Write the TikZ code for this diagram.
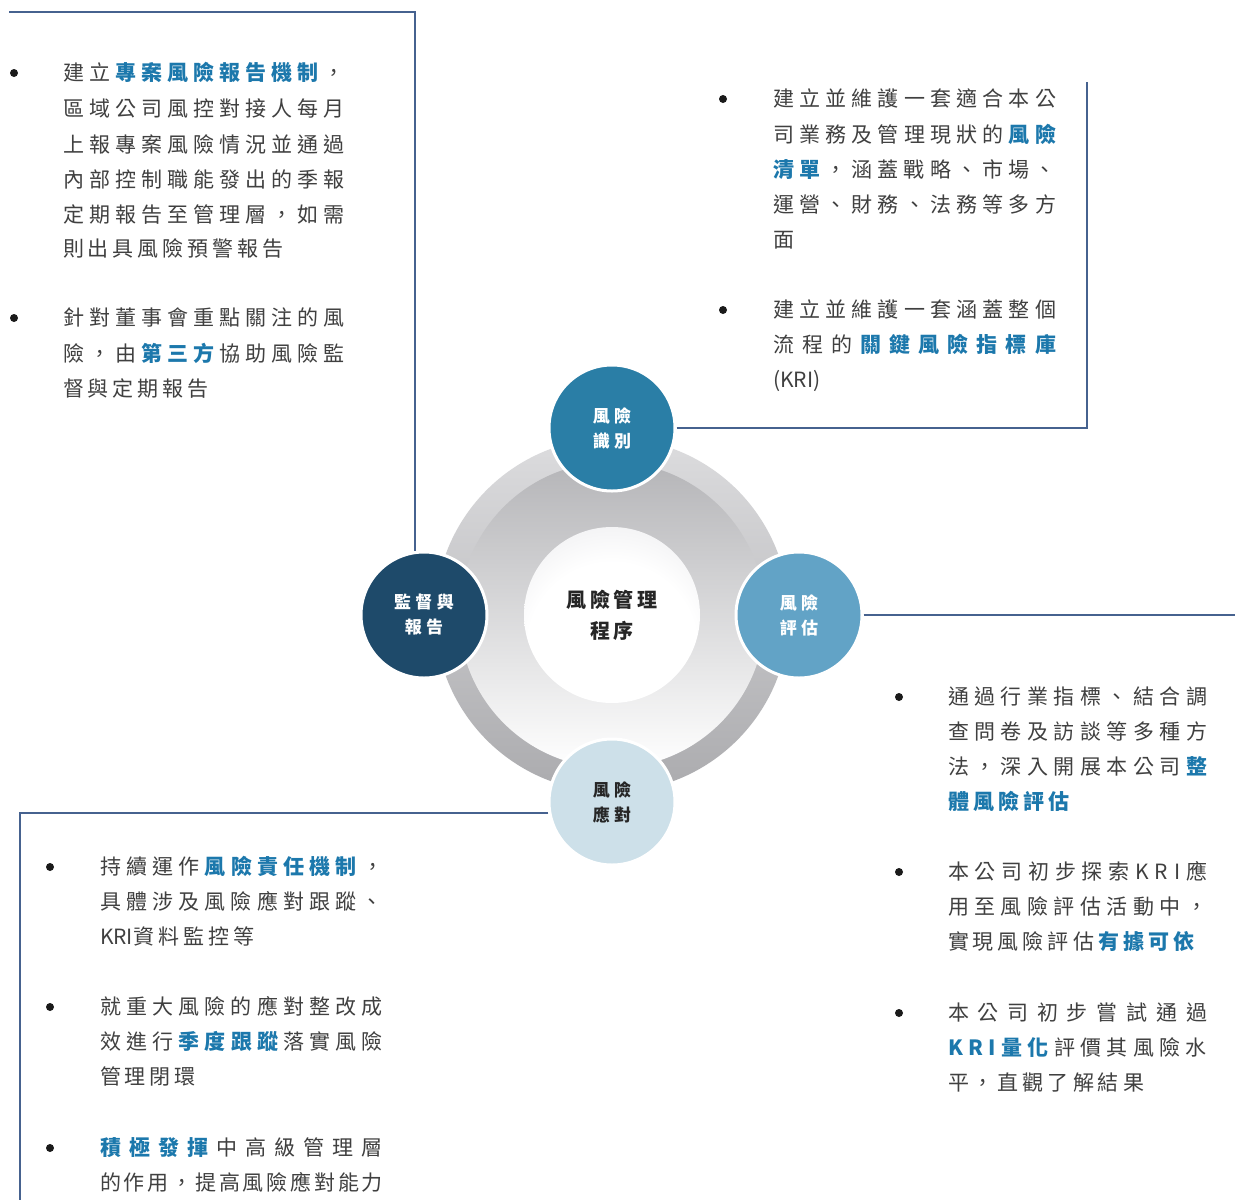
\documentclass[tikz,border=0pt]{standalone}
\usepackage{fontspec}
\setmainfont{Noto Sans CJK TC}
\definecolor{linec}{HTML}{46628F}
\definecolor{textc}{HTML}{404040}
\definecolor{hl}{HTML}{1C78AC}
\definecolor{dotc}{HTML}{1A1A1A}
\definecolor{cIdent}{HTML}{2A7EA6}
\definecolor{cSup}{HTML}{1E4A6A}
\definecolor{cAssess}{HTML}{62A3C6}
\definecolor{cResp}{HTML}{CDE0E9}
\definecolor{corec}{HTML}{262626}
\definecolor{ringT}{HTML}{DCDCDE}
\definecolor{ringM}{HTML}{ECECEE}
\definecolor{ringB}{HTML}{ABABAE}
\definecolor{innT}{HTML}{B5B5B8}
\definecolor{coreA}{HTML}{EEEEF0}
\definecolor{coreB}{HTML}{CACACD}
\definecolor{coreC}{HTML}{A4A4A8}
\pgfdeclareradialshading{coreshade}{\pgfpoint{0bp}{-12bp}}{color(0bp)=(white); color(24bp)=(white); color(38bp)=(coreA); color(50bp)=(coreB); color(64bp)=(coreC); color(100bp)=(coreC)}
\newcommand\chgap{4pt}
\newcommand\cg{\hskip\chgap plus 1fil minus 2pt\relax}
\ExplSyntaxOn
\NewDocumentCommand\jn{m}{\tl_map_inline:nn{#1}{##1\cg}}
\NewDocumentCommand\jh{m}{\tl_map_inline:nn{#1}{{\color{hl}\bfseries ##1}\cg}}
\ExplSyntaxOff
\newcommand\JL[2]{\makebox[#1][s]{#2\unskip}}
\newcommand\NL[1]{#1\unskip}
\newcommand\HB[1]{\hbox{#1\unskip}}
\begin{document}
\begin{tikzpicture}[x=1pt,y=-1pt,
  conn/.style={draw=linec, line width=2pt},
  txt/.style={anchor=west, inner sep=0pt, outer sep=0pt, text=textc, font=\fontsize{21}{25}\selectfont, text height=18pt, text depth=3.5pt},
  dot/.style={circle, fill=dotc, inner sep=0pt, minimum size=8pt},
  phase/.style={circle, draw=white, line width=3pt, minimum size=126pt, inner sep=0pt, align=center, font=\fontsize{17}{25}\selectfont\bfseries\def\chgap{4.5pt}}]
\useasboundingbox (0,0) rectangle (1235,1200);
\fill[white] (0,0) rectangle (1235,1200);
% ring
\shade[top color=ringT, middle color=ringM, bottom color=ringB] (612,615) circle[radius=177pt];
\shade[top color=innT, middle color=white, bottom color=white] (612,615) circle[radius=153pt];
\node[circle, minimum size=176pt, inner sep=0pt, shade, shading=coreshade, align=center, text=corec, font=\fontsize{20}{31}\selectfont\bfseries\def\chgap{3.5pt}] (core) at (612,615) {\HB{\jn{風險管理}}\\\HB{\jn{程序}}};
% phases
\node[phase, fill=cIdent, text=white] (ident) at (612,428) {\HB{\jn{風險}}\\\HB{\jn{識別}}};
\node[phase, fill=cSup, text=white] (sup) at (424,615) {\HB{\jn{監督與}}\\\HB{\jn{報告}}};
\node[phase, fill=cAssess, text=white] (assess) at (799,615) {\HB{\jn{風險}}\\\HB{\jn{評估}}};
\node[phase, fill=cResp, text=corec] (resp) at (612,802) {\HB{\jn{風險}}\\\HB{\jn{應對}}};
% connectors
\coordinate (tlstart) at (9,12);
\coordinate (trend) at (1087,82);
\coordinate (rend) at (1235,615);
\coordinate (bend) at (20,1200);
\draw[conn] (tlstart) -| (sup.98);
\draw[conn] (ident.east) -| (trend);
\draw[conn] (assess.east) -- (rend);
\draw[conn] (resp.190) -| (bend);
% bullets
\node[dot] (d1) at (14,73) {};
\node[dot] (d2) at (14,318) {};
\node[dot] (d3) at (723,99) {};
\node[dot] (d4) at (723,310) {};
\node[dot] (d5) at (899,697) {};
\node[dot] (d6) at (899,872) {};
\node[dot] (d7) at (899,1013) {};
\node[dot] (d8) at (50,867) {};
\node[dot] (d9) at (50,1007) {};
\node[dot] (d10) at (50,1148) {};
% left block
\node[txt] (l1) at (63,73) {\JL{282pt}{\jn{建立}\jh{專案風險報告機制}\jn{，}}};
\node[txt] (l2) at (63,109) {\JL{282pt}{\jn{區域公司風控對接人每月}}};
\node[txt] (l3) at (63,145) {\JL{282pt}{\jn{上報專案風險情況並通過}}};
\node[txt] (l4) at (63,180) {\JL{282pt}{\jn{內部控制職能發出的季報}}};
\node[txt] (l5) at (63,215) {\JL{282pt}{\jn{定期報告至管理層，如需}}};
\node[txt] (l6) at (63,249) {\NL{\jn{則出具風險預警報告}}};
\node[txt] (l7) at (63,318) {\JL{282pt}{\jn{針對董事會重點關注的風}}};
\node[txt] (l8) at (63,354) {\JL{282pt}{\jn{險，由}\jh{第三方}\jn{協助風險監}}};
\node[txt] (l9) at (63,389) {\NL{\jn{督與定期報告}}};
% top right block
\node[txt] (t1) at (773,99) {\JL{283pt}{\jn{建立並維護一套適合本公}}};
\node[txt] (t2) at (773,135) {\JL{283pt}{\jn{司業務及管理現狀的}\jh{風險}}};
\node[txt] (t3) at (773,170) {\JL{283pt}{\jh{清單}\jn{，涵蓋戰略、市場、}}};
\node[txt] (t4) at (773,205) {\JL{283pt}{\jn{運營、財務、法務等多方}}};
\node[txt] (t5) at (773,240) {\NL{\jn{面}}};
\node[txt] (t6) at (773,310) {\JL{283pt}{\jn{建立並維護一套涵蓋整個}}};
\node[txt] (t7) at (773,345) {\JL{283pt}{\jn{流程的}\jh{關鍵風險指標庫}}};
\node[txt] (t8) at (773,380) {(KRI)};
% right block
\node[txt] (r1) at (948,697) {\JL{259pt}{\jn{通過行業指標、結合調}}};
\node[txt] (r2) at (948,732) {\JL{259pt}{\jn{查問卷及訪談等多種方}}};
\node[txt] (r3) at (948,767) {\JL{259pt}{\jn{法，深入開展本公司}\jh{整}}};
\node[txt] (r4) at (948,802) {\NL{\jh{體風險評估}}};
\node[txt] (r5) at (948,872) {\JL{259pt}{\jn{本公司初步探索KRI應}}};
\node[txt] (r6) at (948,907) {\JL{259pt}{\jn{用至風險評估活動中，}}};
\node[txt] (r7) at (948,942) {\NL{\jn{實現風險評估}\jh{有據可依}}};
\node[txt] (r8) at (948,1013) {\JL{259pt}{\jn{本公司初步嘗試通過}}};
\node[txt] (r9) at (948,1048) {\JL{259pt}{\jh{KRI量化}\jn{評價其風險水}}};
\node[txt] (r10) at (948,1083) {\NL{\jn{平，直觀了解結果}}};
% bottom block
\node[txt] (b1) at (100,867) {\JL{283pt}{\jn{持續運作}\jh{風險責任機制}\jn{，}}};
\node[txt] (b2) at (100,902) {\JL{283pt}{\jn{具體涉及風險應對跟蹤、}}};
\node[txt] (b3) at (100,937) {\NL{KRI\jn{資料監控等}}};
\node[txt] (b4) at (100,1007) {\JL{283pt}{\jn{就重大風險的應對整改成}}};
\node[txt] (b5) at (100,1042) {\JL{283pt}{\jn{效進行}\jh{季度跟蹤}\jn{落實風險}}};
\node[txt] (b6) at (100,1077) {\NL{\jn{管理閉環}}};
\node[txt] (b7) at (100,1148) {\JL{283pt}{\jh{積極發揮}\jn{中高級管理層}}};
\node[txt] (b8) at (100,1183) {\JL{283pt}{\jn{的作用，提高風險應對能力}}};
\end{tikzpicture}
\end{document}
